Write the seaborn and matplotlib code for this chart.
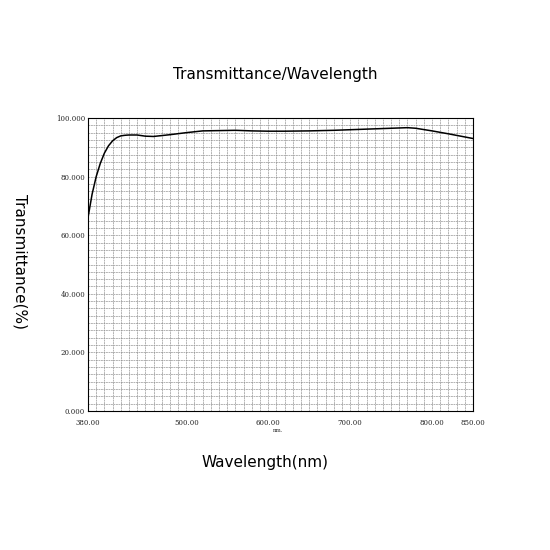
import matplotlib
matplotlib.use("Agg")
import matplotlib.pyplot as plt
import seaborn as sns
import numpy as np
import pandas as pd

wavelength = [380, 385, 390, 395, 400, 405, 410, 415, 420, 425, 430, 440, 450, 460, 470, 480, 500, 520, 540, 560, 580, 600, 620, 650, 680, 700, 720, 750, 770, 780, 800, 820, 835, 850]
transmittance = [66, 74, 80, 84.5, 88, 90.5, 92.2, 93.3, 93.9, 94.1, 94.2, 94.2, 93.8, 93.7, 94.0, 94.3, 95.0, 95.6, 95.7, 95.8, 95.6, 95.5, 95.5, 95.6, 95.8, 96.0, 96.2, 96.5, 96.7, 96.5, 95.6, 94.6, 93.8, 93.0]
xticks = [380, 500, 600, 700, 800, 850]
yticks = [0, 20, 40, 60, 80, 100]

sns.set_style("white")
fig = plt.figure(figsize=(5.5, 5.5), dpi=100)
ax = fig.add_axes([88/550, 1-411/550, 385/550, 293/550])
df = pd.DataFrame({"w": wavelength, "t": transmittance})
sns.lineplot(data=df, x="w", y="t", ax=ax, color="black", linewidth=1.1)
ax.set_xlim(380, 850)
ax.set_ylim(0, 100)
ax.set_xticks(xticks)
ax.set_xticklabels([f"{v:.2f}" for v in xticks], fontsize=5, family="DejaVu Serif")
ax.set_yticks(yticks)
ax.set_yticklabels([f"{v:.3f}" for v in yticks], fontsize=5, family="DejaVu Serif")
ax.set_xticks(np.arange(380, 851, 10), minor=True)
ax.set_yticks(np.arange(0, 100.1, 2.5), minor=True)
ax.grid(which="both", color="#8a8a8a", linewidth=0.45, linestyle=(0, (3, 1)))
ax.tick_params(axis="x", length=0, pad=6)
ax.tick_params(axis="y", length=0, pad=2)
for s in ax.spines.values():
    s.set_color("black"); s.set_linewidth(0.8)
ax.set_xlabel(""); ax.set_ylabel("")
fig.text(0.5, 1-75/550, "Transmittance/Wavelength", ha="center", va="center", fontsize=11, color="black")
fig.text(265/550, 1-462/550, "Wavelength(nm)", ha="center", va="center", fontsize=11, color="black")
fig.text(20/550, 1-262/550, "Transmittance(%)", ha="center", va="center", fontsize=11, rotation=-90, color="black")
fig.text(278/550, 1-431/550, "nm.", ha="center", va="center", fontsize=4, family="DejaVu Serif")
fig.savefig("out.png", dpi=100)
